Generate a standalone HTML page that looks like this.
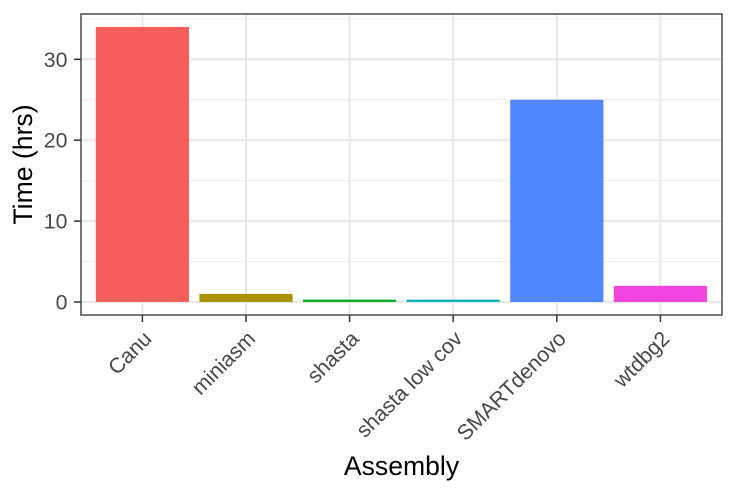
<!DOCTYPE html>
<html>
<head>
<meta charset="utf-8">
<style>
html,body{margin:0;padding:0;background:#fff;width:736px;height:493px;overflow:hidden}
svg{display:block}
text{font-family:"Liberation Sans",Arial,sans-serif}
</style>
</head>
<body>
<svg id="chart" width="736" height="493" viewBox="0 0 736 493" xmlns="http://www.w3.org/2000/svg"></svg>
<script>
const categories = ["Canu", "miniasm", "shasta", "shasta low cov", "SMARTdenovo", "wtdbg2"];
const timeHours = [34, 1, 0.3, 0.3, 25, 2];
const barColors = ["#F65F5C", "#A89200", "#0DB02B", "#12B5B8", "#5086FF", "#F244DE"];
const yTicks = [0, 10, 20, 30];
const yMinorTicks = [5, 15, 25, 35];

const panel = {left: 81, right: 722, top: 14, bottom: 315};
const svg = document.getElementById('chart');
const NS = 'http://www.w3.org/2000/svg';

function yScale(v) { return 302 - v * 8.09; }
function xScale(i) { return 142.4 + i * 103.6; }
const barWidth = 93.2;

function add(tag, attrs, parent) {
  const el = document.createElementNS(NS, tag);
  for (const k in attrs) el.setAttribute(k, attrs[k]);
  (parent || svg).appendChild(el);
  return el;
}

yMinorTicks.forEach(function (v) {
  const el = add('line', {x1: panel.left, x2: panel.right, y1: yScale(v), y2: yScale(v), stroke: '#ebebeb', 'stroke-width': 1});
  
  
});
yTicks.forEach(function (v) {
  const el = add('line', {x1: panel.left, x2: panel.right, y1: yScale(v), y2: yScale(v), stroke: '#e8e8e8', 'stroke-width': 2});
  
  
});
categories.forEach(function (c, i) {
  const el = add('line', {x1: xScale(i), x2: xScale(i), y1: panel.top, y2: panel.bottom, stroke: '#e8e8e8', 'stroke-width': 2});
  
  
});

categories.forEach(function (c, i) {
  const y = yScale(timeHours[i]);
  const el = add('rect', {x: xScale(i) - barWidth / 2, y: y, width: barWidth, height: yScale(0) - y, fill: barColors[i]});
  
  
});

const border = add('rect', {x: panel.left, y: panel.top, width: panel.right - panel.left, height: panel.bottom - panel.top, fill: 'none', stroke: '#4a4a4a', 'stroke-width': 1.5});



yTicks.forEach(function (v) {
  const t = add('line', {x1: 74, x2: panel.left, y1: yScale(v), y2: yScale(v), stroke: '#333333', 'stroke-width': 1.5});
  
  
  const l = add('text', {x: 67.5, y: yScale(v) + 7.5, 'text-anchor': 'end', 'font-size': 21.3, fill: '#484848'});
  l.textContent = String(v);
  
  
});

categories.forEach(function (c, i) {
  const x = xScale(i);
  const t = add('line', {x1: x, x2: x, y1: panel.bottom, y2: 322, stroke: '#333333', 'stroke-width': 1.5});
  
  
  const ax = x + 10.5, ay = 340;
  const l = add('text', {x: ax, y: ay, 'text-anchor': 'end', 'font-size': 21.3, fill: '#484848', transform: 'rotate(-45 ' + ax + ' ' + ay + ')'});
  l.textContent = c;
  
  
});

const xTitle = add('text', {x: 401.5, y: 475, 'text-anchor': 'middle', 'font-size': 26.6, fill: '#000'});
xTitle.textContent = 'Assembly';



const yTitle = add('text', {x: 32, y: 164.5, 'text-anchor': 'middle', 'font-size': 26.6, fill: '#000', transform: 'rotate(-90 32 164.5)'});
yTitle.textContent = 'Time (hrs)';


</script>
</body>
</html>
